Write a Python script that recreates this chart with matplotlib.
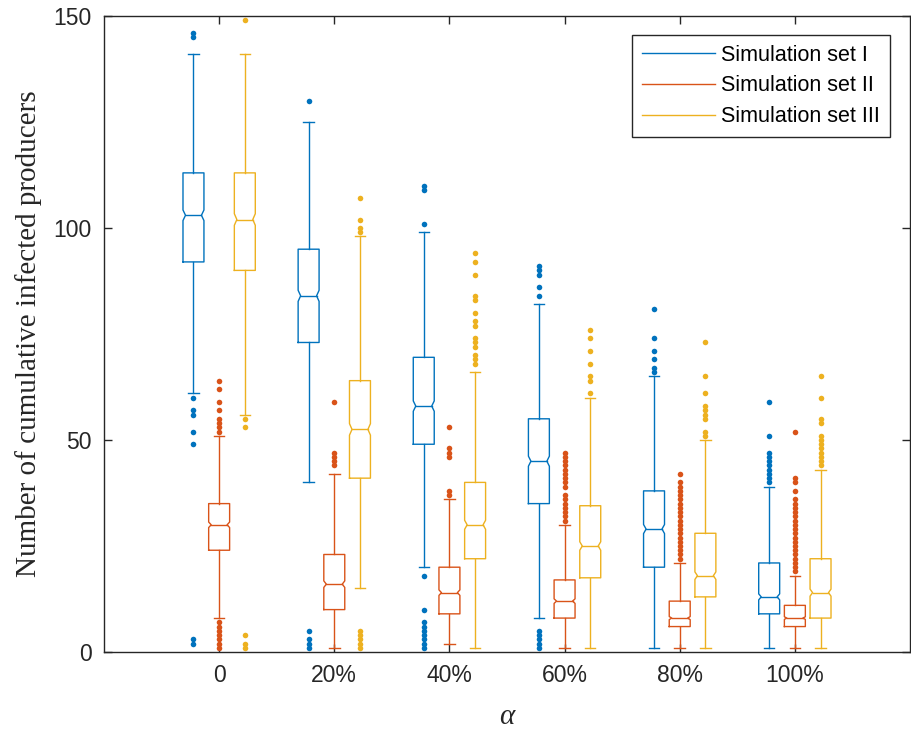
import numpy as np
import matplotlib.pyplot as plt
from matplotlib.lines import Line2D

# group labels on x axis
alpha_labels = ['0', '20%', '40%', '60%', '80%', '100%']
set_names = ['Simulation set I', 'Simulation set II', 'Simulation set III']
colors = ['#0072BD', '#D95319', '#EDB120']

# box stats per set, one value per alpha group
whislo_I = [61, 40, 20, 8, 1, 1]
q1_I     = [92, 73, 49, 35, 20, 9]
med_I    = [103, 84, 58, 45, 29, 13]
q3_I     = [113, 95, 69.5, 55, 38, 21]
whishi_I = [141, 125, 99, 82, 65, 39]
fliers_I = [
    [146, 145, 60, 57, 56, 52, 49, 3, 2],
    [130, 5, 3, 2, 1],
    [110, 109, 101, 18, 10, 7, 6, 5, 4, 3, 2, 1],
    [91, 90, 89, 86, 84, 5, 4, 3, 2, 1],
    [81, 74, 71, 69, 67, 66],
    [59, 51, 47, 46, 45, 44, 43, 42, 41, 40],
]

whislo_II = [8, 1, 2, 1, 1, 1]
q1_II     = [24, 10, 9, 8, 6, 6]
med_II    = [30, 16, 14, 12, 8, 8]
q3_II     = [35, 23, 20, 17, 12, 11]
whishi_II = [51, 42, 36, 30, 21, 18]
fliers_II = [
    [64, 62, 59, 57, 55, 54, 53, 52, 7, 6, 5, 4, 3, 2, 1],
    [59, 47, 46, 45, 44],
    [53, 48, 47, 46, 38, 37],
    [47, 46, 45, 44, 43, 42, 41, 40, 39, 37, 36, 35, 34, 33, 32, 31],
    [42, 40, 39, 38, 37, 36, 35, 34, 33, 32, 31, 30, 29, 28, 27, 26, 25, 24, 23, 22],
    [52, 41, 40, 38, 36, 35, 34, 33, 32, 31, 30, 29, 28, 27, 26, 25, 24, 23, 22, 21, 20, 19],
]

whislo_III = [56, 15, 1, 1, 1, 1]
q1_III     = [90, 41, 22, 17.5, 13, 8]
med_III    = [102, 52.5, 30, 25, 18, 14]
q3_III     = [113, 64, 40, 34.5, 28, 22]
whishi_III = [141, 98, 66, 60, 50, 43]
fliers_III = [
    [149, 55, 53, 4, 2, 1],
    [107, 102, 100, 99, 5, 4, 3, 2, 1],
    [94, 92, 89, 84, 83, 80, 78, 77, 74, 73, 72, 70, 69, 68],
    [76, 74, 71, 68, 65, 64, 61],
    [73, 65, 61, 58, 57, 56, 55, 52, 51],
    [65, 60, 55, 54, 51, 50, 49, 48, 47, 46, 45, 44],
]

sets = [
    (whislo_I, q1_I, med_I, q3_I, whishi_I, fliers_I),
    (whislo_II, q1_II, med_II, q3_II, whishi_II, fliers_II),
    (whislo_III, q1_III, med_III, q3_III, whishi_III, fliers_III),
]

n_samples = 700          # only used for notch height
box_w = 0.182
offset = 0.223
lw = 1.0

fig = plt.figure(figsize=(9.11, 7.30), dpi=100)
ax = fig.add_axes([104/911, 1-652/730, 806/911, 636/730])

for k, (wlo, q1, med, q3, whi, fl) in enumerate(sets):
    c = colors[k]
    for g in range(len(alpha_labels)):
        x = g + 1 + (k - 1) * offset
        l, r = x - box_w/2, x + box_w/2
        d = box_w * 0.12
        nh = 1.57 * (q3[g] - q1[g]) / np.sqrt(n_samples)
        m = med[g]
        # notched box outline
        bx = [l, l, l+d, l, l, r, r, r-d, r, r, l]
        by = [q1[g], m-nh, m, m+nh, q3[g], q3[g], m+nh, m, m-nh, q1[g], q1[g]]
        ax.plot(bx, by, color=c, lw=lw)
        ax.plot([l+d, r-d], [m, m], color=c, lw=lw)
        # whiskers + caps
        ax.plot([x, x], [q3[g], whi[g]], color=c, lw=lw)
        ax.plot([x, x], [q1[g], wlo[g]], color=c, lw=lw)
        ax.plot([x-box_w/4, x+box_w/4], [whi[g], whi[g]], color=c, lw=lw)
        ax.plot([x-box_w/4, x+box_w/4], [wlo[g], wlo[g]], color=c, lw=lw)
        ax.plot([x]*len(fl[g]), fl[g], 'o', color=c, ms=4.0, mec='none')

ax.set_xlim(0, 7)
ax.set_ylim(0, 150)
ax.set_xticks(range(1, 7))
ax.set_xticklabels(alpha_labels)
ax.set_yticks([0, 50, 100, 150])

axc = '#262626'
for s in ax.spines.values():
    s.set_color(axc)
    s.set_linewidth(1.0)
ax.tick_params(direction='in', top=True, right=True, length=6, width=1.0,
               colors=axc, labelsize=16.5, labelfontfamily='Liberation Sans')
ax.tick_params(axis='y', pad=9)
ax.tick_params(axis='x', pad=9)

ax.set_ylabel('Number of cumulative infected producers', fontsize=21,
              family='Liberation Serif', color=axc)
ax.yaxis.set_label_coords((42-104)/806, 0.5)
ax.set_xlabel('α', fontsize=21, family='Liberation Serif', style='italic',
              color=axc, labelpad=12)

handles = [Line2D([], [], color=c, lw=1.0) for c in colors]
leg = ax.legend(handles, set_names, loc='upper right',
                bbox_to_anchor=(890/911, 1-35/730), bbox_transform=fig.transFigure,
                borderaxespad=0, fancybox=False, edgecolor=axc, framealpha=1,
                handlelength=3.4, handletextpad=0.3, borderpad=0.45,
                labelspacing=0.45, prop={'family': 'Liberation Sans', 'size': 15.5})
leg.get_frame().set_linewidth(1.0)

fig.savefig('out.png', dpi=100)
